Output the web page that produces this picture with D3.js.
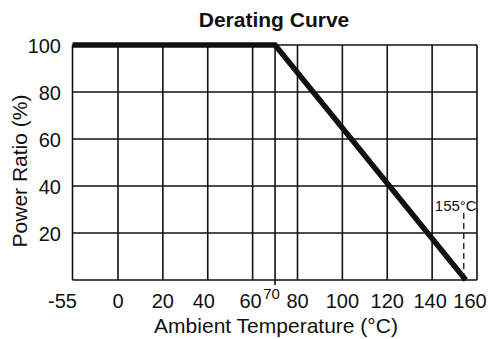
<!DOCTYPE html>
<html>
<head>
<meta charset="utf-8">
<script src="https://cdn.jsdelivr.net/npm/d3@7"></script>
<style>
  html, body { margin: 0; padding: 0; background: #fff; }
  svg { display: block; font-family: "Liberation Sans", Arial, sans-serif; }
</style>
</head>
<body>
<svg id="chart" width="488" height="339"></svg>
<script>
// Derating curve: rated power held to 70°C, then falling linearly to zero at 155°C
const curveTemps = [-55, 70, 155];
const curveRatios = [100, 100, 0];

// Grid positions and tick labels
const xGridTemps = [-55, 0, 20, 40, 60, 70, 80, 100, 120, 140, 160];
const xTickLabels = ["-55", "0", "20", "40", "60", "70", "80", "100", "120", "140", "160"];
const yGridRatios = [0, 20, 40, 60, 80, 100];
const yTickValues = [20, 40, 60, 80, 100];

const maxTempMarker = 155;
const maxTempLabel = "155°C";

(function () {
  const svg = d3.select("#chart");
  const plotL = 72.5, plotR = 477, plotT = 45, plotB = 280;

  // The -55 end of the axis is compressed into one grid step (axis break)
  const x = d3.scaleLinear().domain([-55, 0, 160]).range([plotL, 118, plotR]);
  const y = d3.scaleLinear().domain([0, 100]).range([plotB, plotT]);

  const g = svg.append("g");

  // Grid
  g.selectAll("line.vgrid").data(xGridTemps).enter().append("line")
    .attr("x1", d => x(d)).attr("x2", d => x(d))
    .attr("y1", plotT).attr("y2", plotB)
    .attr("stroke", "#111").attr("stroke-width", 1.6);
  g.selectAll("line.hgrid").data(yGridRatios).enter().append("line")
    .attr("x1", plotL).attr("x2", plotR)
    .attr("y1", d => y(d)).attr("y2", d => y(d))
    .attr("stroke", "#111").attr("stroke-width", 1.6);

  // small tick below the axis at 70
  g.append("line")
    .attr("x1", x(70)).attr("x2", x(70))
    .attr("y1", plotB).attr("y2", plotB + 5)
    .attr("stroke", "#111").attr("stroke-width", 1.6);

  // Dashed marker at maximum temperature
  g.append("line")
    .attr("x1", x(maxTempMarker) - 2).attr("x2", x(maxTempMarker) - 2)
    .attr("y1", 213).attr("y2", plotB)
    .attr("stroke", "#111").attr("stroke-width", 1.3)
    .attr("stroke-dasharray", "6,4");
  g.append("text")
    .attr("x", x(maxTempMarker) - 10).attr("y", 211)
    .attr("text-anchor", "middle")
    .attr("font-size", 15).attr("fill", "#111")
    .text(maxTempLabel);

  // Curve
  const line = d3.line().x(d => x(d[0])).y(d => y(d[1]));
  g.append("path")
    .datum(curveTemps.map((t, i) => [t, curveRatios[i]]))
    .attr("d", line)
    .attr("fill", "none").attr("stroke", "#111")
    .attr("stroke-width", 5.5).attr("stroke-linejoin", "miter");

  // X tick labels (70 drawn small and raised, squeezed between 60 and 80)
  const xLabelShift = { "-55": -10, "40": -4, "60": -2, "70": -3.5, "140": -2, "160": -7 };
  g.selectAll("text.xt").data(xGridTemps).enter().append("text")
    .attr("x", (d, i) => x(d) + (xLabelShift[xTickLabels[i]] || 0))
    .attr("y", d => d === 70 ? 299 : 308)
    .attr("text-anchor", "middle")
    .attr("font-size", d => d === 70 ? 15 : 20)
    .attr("fill", "#111")
    .text((d, i) => xTickLabels[i]);

  // Y tick labels
  g.selectAll("text.yt").data(yTickValues).enter().append("text")
    .attr("x", 61).attr("y", d => y(d) + 8)
    .attr("text-anchor", "end")
    .attr("font-size", 20).attr("fill", "#111")
    .text(d => d);

  // Titles
  svg.append("text")
    .attr("x", 274).attr("y", 27)
    .attr("text-anchor", "middle")
    .attr("font-size", 21).attr("font-weight", "bold").attr("fill", "#111")
    .text("Derating Curve");
  svg.append("text")
    .attr("x", 276).attr("y", 333)
    .attr("text-anchor", "middle")
    .attr("font-size", 21).attr("fill", "#111")
    .text("Ambient Temperature (°C)");
  svg.append("text")
    .attr("transform", "translate(27,171) rotate(-90)")
    .attr("text-anchor", "middle")
    .attr("font-size", 21).attr("fill", "#111")
    .text("Power Ratio (%)");
})();
</script>
</body>
</html>
